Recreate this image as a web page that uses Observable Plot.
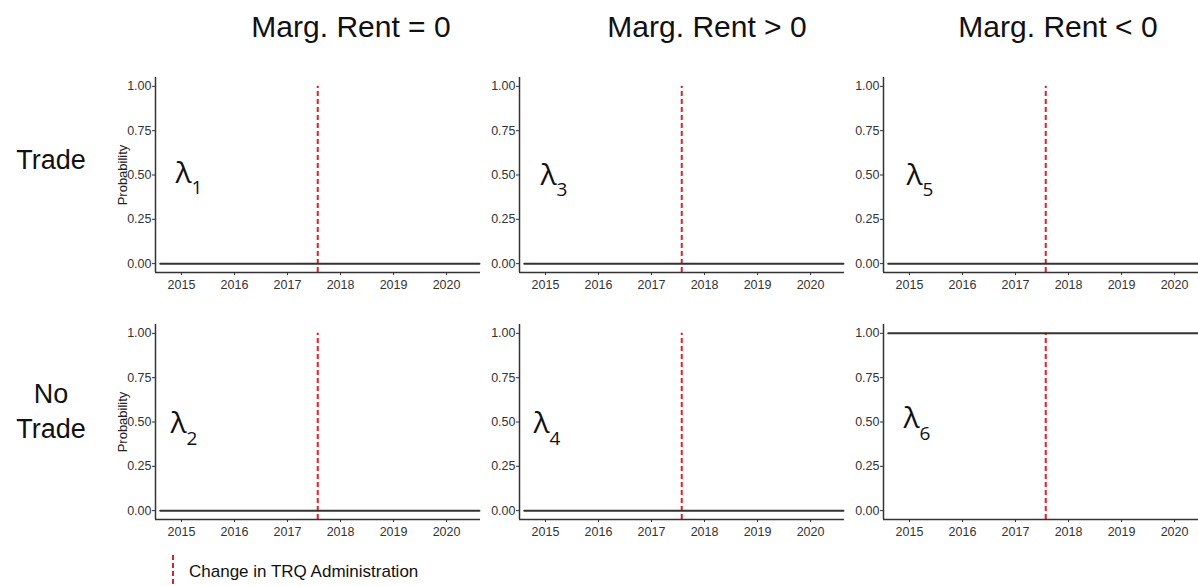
<!DOCTYPE html>
<html><head><meta charset="utf-8">
<script src="https://cdn.jsdelivr.net/npm/d3@7"></script>
<script src="https://cdn.jsdelivr.net/npm/@observablehq/plot@0.6"></script>
<style>
body{margin:0;background:#fff;overflow:hidden}
#chart{position:relative;width:1198px;height:586px;overflow:hidden;font-family:"Liberation Sans",Arial,sans-serif;color:#111}
.lbl{position:absolute;white-space:nowrap;line-height:1}
.plot{position:absolute}
</style></head><body><div id="chart"></div>
<script>
// ---- data ----
const colLabels = ["Marg. Rent = 0", "Marg. Rent > 0", "Marg. Rent < 0"];
const rowLabels = ["Trade", "No Trade"];
const lambdaIndex = [[1, 3, 5], [2, 4, 6]];
const probValues = [[0, 0, 0], [0, 0, 1]];
const lineYears = [2014.6, 2020.62];
const yearTicks = [2015, 2016, 2017, 2018, 2019, 2020];
const probTicks = [0, 0.25, 0.5, 0.75, 1];
const trqChange = [2017.57];
const legendLabel = "Change in TRQ Administration";
const yLabel = "Probability";

// ---- layout ----
const xDomain = [2014.51, 2020.64];
const yDomain = [-0.05, 1.05];
const colLeft = [100, 464, 828];
const rowTop = [60, 307];
const titleX = [351, 707, 1058];
const lamDx = [[20, 21, 23], [15, 14, 20]];
const lamY = [[0.51, 0.50, 0.50], [0.49, 0.49, 0.52]];
const tickFont = '"Liberation Sans Narrow","Arial Narrow","Liberation Sans",Arial,sans-serif';
const red = "#e0202a";
const ink = "#333";

const chart = document.getElementById("chart");

function addLabel(text, left, top, size, center) {
  const d = document.createElement("div");
  d.className = "lbl";
  d.textContent = text;
  d.style.left = left + "px";
  d.style.top = top + "px";
  d.style.fontSize = size + "px";
  if (center) d.style.transform = "translateX(-50%)";
  chart.appendChild(d);
}

for (let r = 0; r < 2; r++) {
  for (let c = 0; c < 3; c++) {
    const series = lineYears.map(yr => ({year: yr, prob: probValues[r][c]}));
    const marks = [
      Plot.ruleX(trqChange, {y1: yDomain[0], y2: 1, stroke: red, strokeWidth: 2, strokeDasharray: "5,3"}),
      Plot.line(series, {x: "year", y: "prob", stroke: ink, strokeWidth: 2}),
      Plot.ruleY([yDomain[0]], {stroke: ink, strokeWidth: 1.5}),
      Plot.ruleX([xDomain[0]], {stroke: ink, strokeWidth: 1.5}),
      Plot.text(["λ"], {frameAnchor: "left", y: () => lamY[r][c], dx: lamDx[r][c], textAnchor: "start", lineAnchor: "middle", fontSize: 30, fontFamily: '"Open Sans",sans-serif', fill: "#111"}),
      Plot.text([String(lambdaIndex[r][c])], {frameAnchor: "left", y: () => lamY[r][c], dx: lamDx[r][c] + 16, dy: 15, textAnchor: "start", lineAnchor: "middle", fontSize: 19, fontFamily: '"Open Sans",sans-serif', fill: "#111"})
    ];
    if (c === 0) {
      marks.push(Plot.text([yLabel], {frameAnchor: "left", dx: -33, rotate: -90, textAnchor: "middle", lineAnchor: "middle", fontSize: 13, fontFamily: '"Liberation Sans",Arial,sans-serif', fill: "#222"}));
    }
    const svg = Plot.plot({
      width: 382, height: 242,
      marginLeft: 55, marginRight: 2, marginTop: 17, marginBottom: 30,
      style: {fontFamily: tickFont, fontSize: "12.5px", color: ink, background: "transparent", overflow: "visible"},
      x: {domain: xDomain, ticks: yearTicks, tickFormat: d => String(d), tickSize: 3, tickPadding: 5, label: null},
      y: {domain: yDomain, ticks: probTicks, tickFormat: d3.format(".2f"), tickSize: 3, tickPadding: 1, label: null},
      marks
    });
    svg.classList.add("plot");
    svg.style.left = colLeft[c] + "px";
    svg.style.top = rowTop[r] + "px";
    chart.appendChild(svg);
  }
}

colLabels.forEach((t, i) => addLabel(t, titleX[i], 11.6, 30, true));
addLabel(rowLabels[0], 51, 146.6, 27, true);
const nt = rowLabels[1].split(" ");
addLabel(nt[0], 51, 380.7, 27, true);
addLabel(nt[1], 51, 415.7, 27, true);

// legend
const ns = "http://www.w3.org/2000/svg";
const lg = document.createElementNS(ns, "svg");
lg.setAttribute("width", 6); lg.setAttribute("height", 32);
lg.style.position = "absolute"; lg.style.left = "170px"; lg.style.top = "555px";
const ln = document.createElementNS(ns, "line");
ln.setAttribute("x1", 3); ln.setAttribute("x2", 3); ln.setAttribute("y1", 0); ln.setAttribute("y2", 32);
ln.setAttribute("stroke", red); ln.setAttribute("stroke-width", 2); ln.setAttribute("stroke-dasharray", "5,3");
lg.appendChild(ln);
chart.appendChild(lg);
addLabel(legendLabel, 189, 562.5, 17, false);
</script></body></html>
